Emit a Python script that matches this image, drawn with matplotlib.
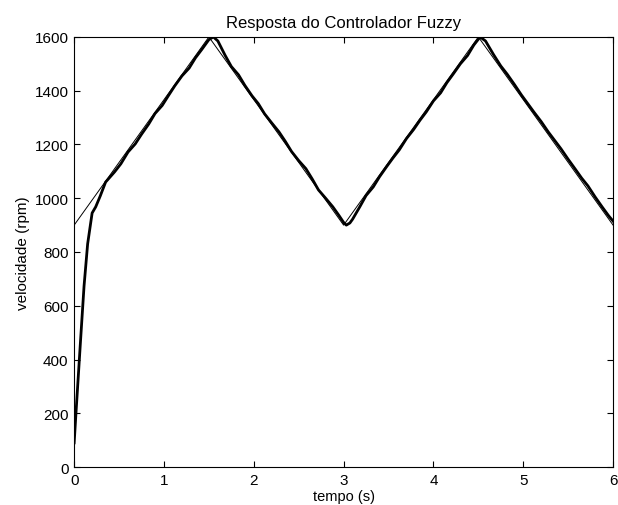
import numpy as np
import matplotlib.pyplot as plt

plt.rcParams['font.family'] = ['Liberation Sans', 'DejaVu Sans']

# reference (triangle) speed
ref_t = [0, 1.5, 3, 4.5, 6]
ref_v = [900, 1600, 900, 1600, 900]

# fuzzy controller response
resp_t = [0, 0.02, 0.07, 0.11, 0.15, 0.2, 0.24, 0.29, 0.35, 0.45, 0.52,
          0.6, 0.68, 0.75, 0.83, 0.9, 0.98, 1.05, 1.12, 1.2, 1.28, 1.35,
          1.42, 1.5, 1.55, 1.6, 1.68, 1.75, 1.83, 1.9, 1.98, 2.05, 2.12,
          2.2, 2.28, 2.35, 2.42, 2.5, 2.58, 2.65, 2.72, 2.8, 2.88, 2.95,
          3.0, 3.03, 3.07, 3.1, 3.18, 3.25, 3.33, 3.4, 3.48, 3.55, 3.62,
          3.7, 3.78, 3.85, 3.92, 4.0, 4.08, 4.15, 4.22, 4.3, 4.38, 4.45,
          4.52, 4.58, 4.67, 4.75, 4.82, 4.9, 4.98, 5.05, 5.12, 5.2, 5.28,
          5.35, 5.42, 5.5, 5.58, 5.65, 5.72, 5.8, 5.88, 5.95, 6.0]
resp_v = [90, 200, 465, 673, 830, 945, 968, 1008, 1060, 1098, 1128,
          1172, 1202, 1238, 1276, 1315, 1345, 1382, 1418, 1455, 1484, 1522,
          1553, 1590, 1600, 1585, 1532, 1490, 1459, 1420, 1381, 1352, 1314,
          1280, 1247, 1212, 1174, 1140, 1110, 1072, 1031, 1000, 968, 935,
          910, 900, 908, 922, 968, 1010, 1042, 1080, 1118, 1150, 1180,
          1222, 1256, 1290, 1321, 1362, 1392, 1430, 1462, 1500, 1531, 1570,
          1600, 1585, 1534, 1492, 1462, 1424, 1384, 1352, 1320, 1285, 1246,
          1215, 1184, 1145, 1108, 1075, 1046, 1005, 967, 935, 915]

fig = plt.figure(figsize=(6.18, 5.06), dpi=100)
ax = fig.add_axes([0.12, 0.075, 0.872, 0.85])

ax.plot(resp_t, resp_v, color='k', linewidth=2.0)
ax.plot(ref_t, ref_v, color='k', linewidth=0.7)

ax.set_xlim(0, 6)
ax.set_ylim(0, 1600)
ax.set_xticks(np.arange(0, 7, 1))
ax.set_yticks(np.arange(0, 1601, 200))
ax.tick_params(direction='in', top=True, right=True, length=4, labelsize=11,
               pad=4)
for s in ax.spines.values():
    s.set_linewidth(0.8)

ax.set_title("Resposta do Controlador Fuzzy", fontsize=12, pad=7)
ax.set_xlabel("tempo (s)", fontsize=10.5, labelpad=2)
ax.set_ylabel("velocidade (rpm)", fontsize=11, labelpad=3)

fig.savefig("out.png", dpi=100)
